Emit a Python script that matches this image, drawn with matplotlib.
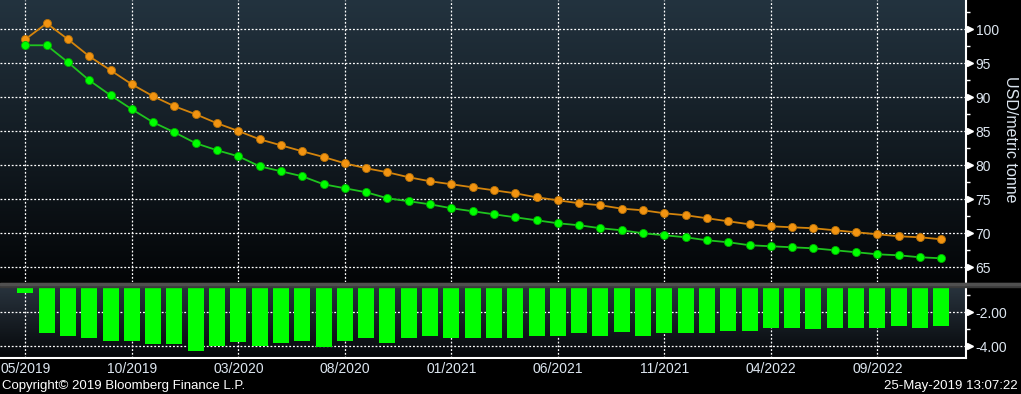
import numpy as np
import matplotlib.pyplot as plt
from matplotlib.colors import LinearSegmentedColormap
from matplotlib.patches import Rectangle
from matplotlib.ticker import MultipleLocator

plt.rcParams['font.family'] = ['Liberation Sans', 'DejaVu Sans']

# monthly contracts 05/2019 .. 12/2022
tick_labels = ['05/2019', '10/2019', '03/2020', '08/2020', '01/2021',
               '06/2021', '11/2021', '04/2022', '09/2022']
orange = [98.53, 100.88, 98.53, 96.03, 93.97, 91.91, 90.15, 88.68, 87.50, 86.18,
          85.04, 83.82, 82.94, 82.06, 81.22, 80.29, 79.56, 78.97, 78.24, 77.65,
          77.21, 76.76, 76.32, 75.88, 75.29, 74.85, 74.41, 74.12, 73.62, 73.38,
          72.94, 72.65, 72.21, 71.76, 71.32, 71.03, 70.88, 70.74, 70.44, 70.15,
          69.85, 69.56, 69.41, 69.12]
green = [97.65, 97.65, 95.15, 92.50, 90.29, 88.24, 86.32, 84.85, 83.24, 82.21,
         81.32, 79.85, 79.12, 78.38, 77.21, 76.62, 76.03, 75.15, 74.71, 74.26,
         73.68, 73.24, 72.79, 72.35, 71.91, 71.47, 71.18, 70.74, 70.44, 70.00,
         69.71, 69.41, 68.97, 68.68, 68.24, 68.09, 67.94, 67.79, 67.50, 67.21,
         66.91, 66.76, 66.47, 66.32]
spread = np.round(np.array(green) - np.array(orange), 2)
x = np.arange(len(orange))

txt = '#dde6f0'
fig = plt.figure(figsize=(10.21, 3.94), dpi=100, facecolor='black')
ax = fig.add_axes([0, 0.283, 0.9461, 0.717])
ax2 = fig.add_axes([0, 0.0906, 0.9461, 0.1817])


def gradient(a, top, bottom):
    cmap = LinearSegmentedColormap.from_list('g', [bottom, top])
    a.imshow(np.linspace(0, 1, 256).reshape(-1, 1)[::-1], cmap=cmap, aspect='auto',
             extent=(0, 1, 0, 1), transform=a.transAxes, zorder=0)


gradient(ax, '#23333f', '#030507')
gradient(ax2, '#29343e', '#05070a')

ax.plot(x, orange, color='#d4840c', lw=1.3, marker='o', ms=5.8,
        mfc='#f29411', mec='#b87208', mew=0.6, zorder=4)
ax.plot(x, green, color='#1fc41f', lw=1.3, marker='o', ms=5.8,
        mfc='#00ff00', mec='#00b000', mew=0.6, zorder=4)
ax2.bar(x, spread, width=0.75, color='#00ff00', zorder=3)

xlim = (-1.19, 44.16)
for a in (ax, ax2):
    a.set_facecolor('black')
    a.set_xlim(xlim)
    a.set_xticks(range(0, 44, 5))
    a.grid(True, color='white', linestyle=(0, (1.5, 1.5)), linewidth=0.9, zorder=1)
    a.yaxis.tick_right()
    for s in ('top', 'left', 'bottom'):
        a.spines[s].set_visible(False)
    a.spines['right'].set_color('white')
    a.spines['right'].set_linewidth(1.5)
    a.tick_params(axis='y', which='major', length=0, pad=7, labelcolor=txt, labelsize=10)
    a.tick_params(axis='y', which='minor', length=3, width=1, color='white', direction='out')
    a.tick_params(axis='x', length=0)

ax.set_ylim(62.76, 104.31)
ax.set_yticks(range(65, 101, 5))
ax.yaxis.set_minor_locator(MultipleLocator(2.5))
ax.set_xticklabels([])

ax2.set_ylim(-4.7, -0.49)
ax2.set_yticks([-2, -4])
ax2.set_yticklabels(['-2.00', '-4.00'])
ax2.yaxis.set_minor_locator(MultipleLocator(1))
ax2.spines['bottom'].set_visible(True)
ax2.spines['bottom'].set_color('white')
ax2.spines['bottom'].set_linewidth(1.5)
ax2.set_xticklabels(tick_labels)
ax2.tick_params(axis='x', pad=3, labelcolor=txt, labelsize=10)

# triangle tick markers on the right axis
for a, ticks in ((ax, range(65, 101, 5)), (ax2, [-2, -4])):
    a.plot([1.004] * len(ticks), list(ticks), marker='>', ms=5, color='white', ls='none',
           transform=a.get_yaxis_transform(), clip_on=False, zorder=5)

fig.patches.append(Rectangle((0, 1 - 286.7 / 394), 1, 4 / 394, transform=fig.transFigure,
                             color='#3a3a3a', zorder=10))
fig.patches.append(Rectangle((0, 1 - 284.5 / 394), 1, 1.8 / 394, transform=fig.transFigure,
                             color='#505050', zorder=11))

fig.text(0.99, 0.647, 'USD/metric tonne', rotation=270, ha='center', va='center',
         color=txt, fontsize=11.5)
fig.text(0.002, 0.013, 'Copyright\u00a9 2019 Bloomberg Finance L.P.', color='white',
         fontsize=9.5, va='baseline', ha='left')
fig.text(0.997, 0.013, '25-May-2019 13:07:22', color='white', fontsize=9.5,
         va='baseline', ha='right')

fig.savefig('out.png', dpi=100, facecolor='black')
